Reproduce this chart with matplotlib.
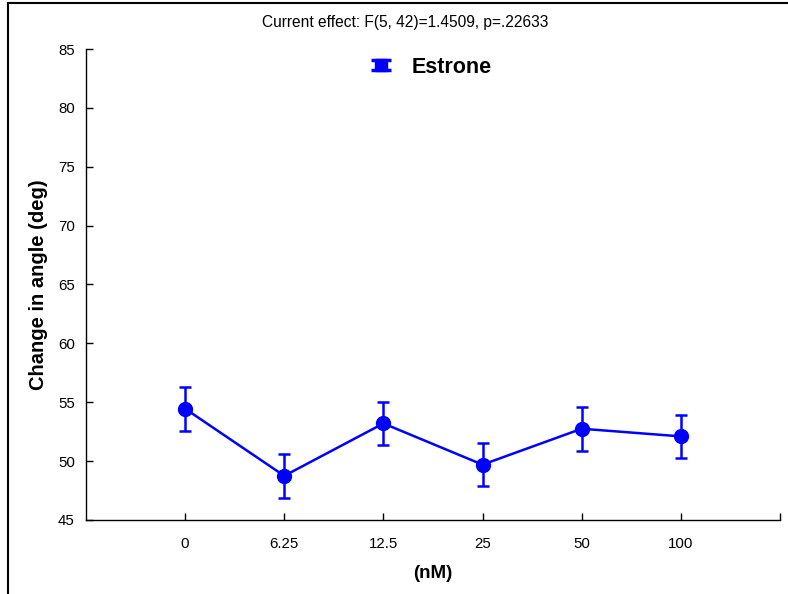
import matplotlib
matplotlib.use("Agg")
import numpy as np
import matplotlib.pyplot as plt
from matplotlib.lines import Line2D
from matplotlib.legend_handler import HandlerErrorbar

plt.rcParams['font.family'] = ['Liberation Sans', 'DejaVu Sans']

# Data
doses = ["0", "6.25", "12.5", "25", "50", "100"]
mean_angle = [54.45, 48.75, 53.2, 49.7, 52.75, 52.1]
err_angle = [1.85, 1.85, 1.8, 1.85, 1.85, 1.85]
y_ticks = [45, 50, 55, 60, 65, 70, 75, 80, 85]
series_name = "Estrone"
title_text = "Current effect: F(5, 42)=1.4509, p=.22633"

BLUE = "#0000FF"

fig = plt.figure(figsize=(7.88, 5.94), dpi=100)
ax = fig.add_axes([0.1091, 0.1246, 0.8807, 0.7929])

xpos = list(range(len(doses)))
ax.errorbar(xpos, mean_angle, yerr=err_angle, color=BLUE,
            lw=1.8, marker="o", markersize=10, elinewidth=1.8,
            capsize=4, capthick=1.8)

ax.set_xlim(-1, len(doses))
ax.set_ylim(45, 85)
ax.set_yticks(y_ticks)
ax.set_xticks(xpos + [len(doses)])
ax.set_xticklabels(doses + [""])
ax.tick_params(direction="in", length=5, width=1, labelsize=10.8,
               colors="black", pad=8)
ax.tick_params(axis="x", pad=12)
for s in ["top", "right"]:
    ax.spines[s].set_visible(False)
for s in ["left", "bottom"]:
    ax.spines[s].set_linewidth(1)

ax.set_ylabel("Change in angle (deg)", fontsize=14.5, fontweight="bold",
              labelpad=7)
ax.set_xlabel("(nM)", fontsize=13.5, fontweight="bold", labelpad=10)

fig.text(0.514, 0.962, title_text, ha="center", va="center", fontsize=11.2)

# legend key: short block with caps, no connecting line
key = ax.errorbar([np.nan], [np.nan], yerr=[1], fmt="s", color=BLUE,
                  markersize=8, elinewidth=2.5, capsize=7, capthick=2.5,
                  label=series_name)
ax.legend(handles=[key], loc="upper center",
          bbox_to_anchor=(0.497, 1.025), frameon=False,
          prop={"size": 15.5, "weight": "bold"}, handlelength=1.0,
          handletextpad=0.9,
          handler_map={type(key): HandlerErrorbar(yerr_size=0.22)})

# figure frame lines
fig.add_artist(Line2D([0.0102, 0.0102], [0, 0.995], transform=fig.transFigure,
                      color="black", lw=1.5))
fig.add_artist(Line2D([0.0102, 1.0], [0.995, 0.995], transform=fig.transFigure,
                      color="black", lw=1.5))

fig.savefig("out.png", dpi=100)
